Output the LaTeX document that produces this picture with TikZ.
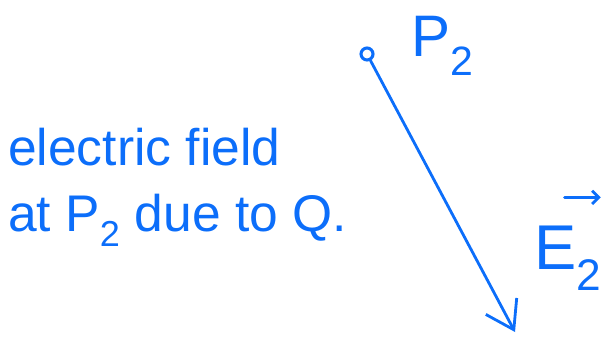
\documentclass[tikz,border=0pt]{standalone}
\usepackage{fontspec}
\setmainfont{Liberation Sans}
\usetikzlibrary{arrows.meta,positioning}
\definecolor{InkBlue}{RGB}{12,110,250}
\tikzset{
  ink/.style={InkBlue,line width=2.4pt,line cap=round,line join=round},
  field/.style={ink,-{Straight Barb[length=8mm,width=10.5mm,line width=2.4pt]}},
  dot/.style={circle,draw=InkBlue,line width=2.6pt,fill=white,inner sep=0pt,minimum size=0.36cm},
  handtext/.style={text=InkBlue,font=\fontsize{44}{56}\selectfont,align=left},
}
\begin{document}
\begin{tikzpicture}[x=0.03cm,y=-0.03cm]
    \useasboundingbox (0,0) rectangle (606,340);

    % Point and its label
    \node[dot] (p2) at (367,54) {};
    \node[text=InkBlue, font=\fontsize{50}{56}\selectfont] (p2label) at (443,46) {P\textsubscript{2}};

    % Field vector
    \coordinate (tip) at (515,332);
    \draw[field] (p2) -- (tip);
    \node[text=InkBlue, font=\fontsize{54}{60}\selectfont, inner sep=0pt] (elabel) at (568,258) {E\textsubscript{2}};
    \draw[ink, -{Straight Barb[length=2mm,width=4mm]}] ([xshift=-3pt,yshift=24pt]elabel.north) -- ([xshift=-1pt,yshift=24pt]elabel.north east);

    % Note
    \node[handtext, anchor=north west] (note) at (4,124) {electric field\\at P\textsubscript{2} due to Q.};

\end{tikzpicture}
\end{document}
